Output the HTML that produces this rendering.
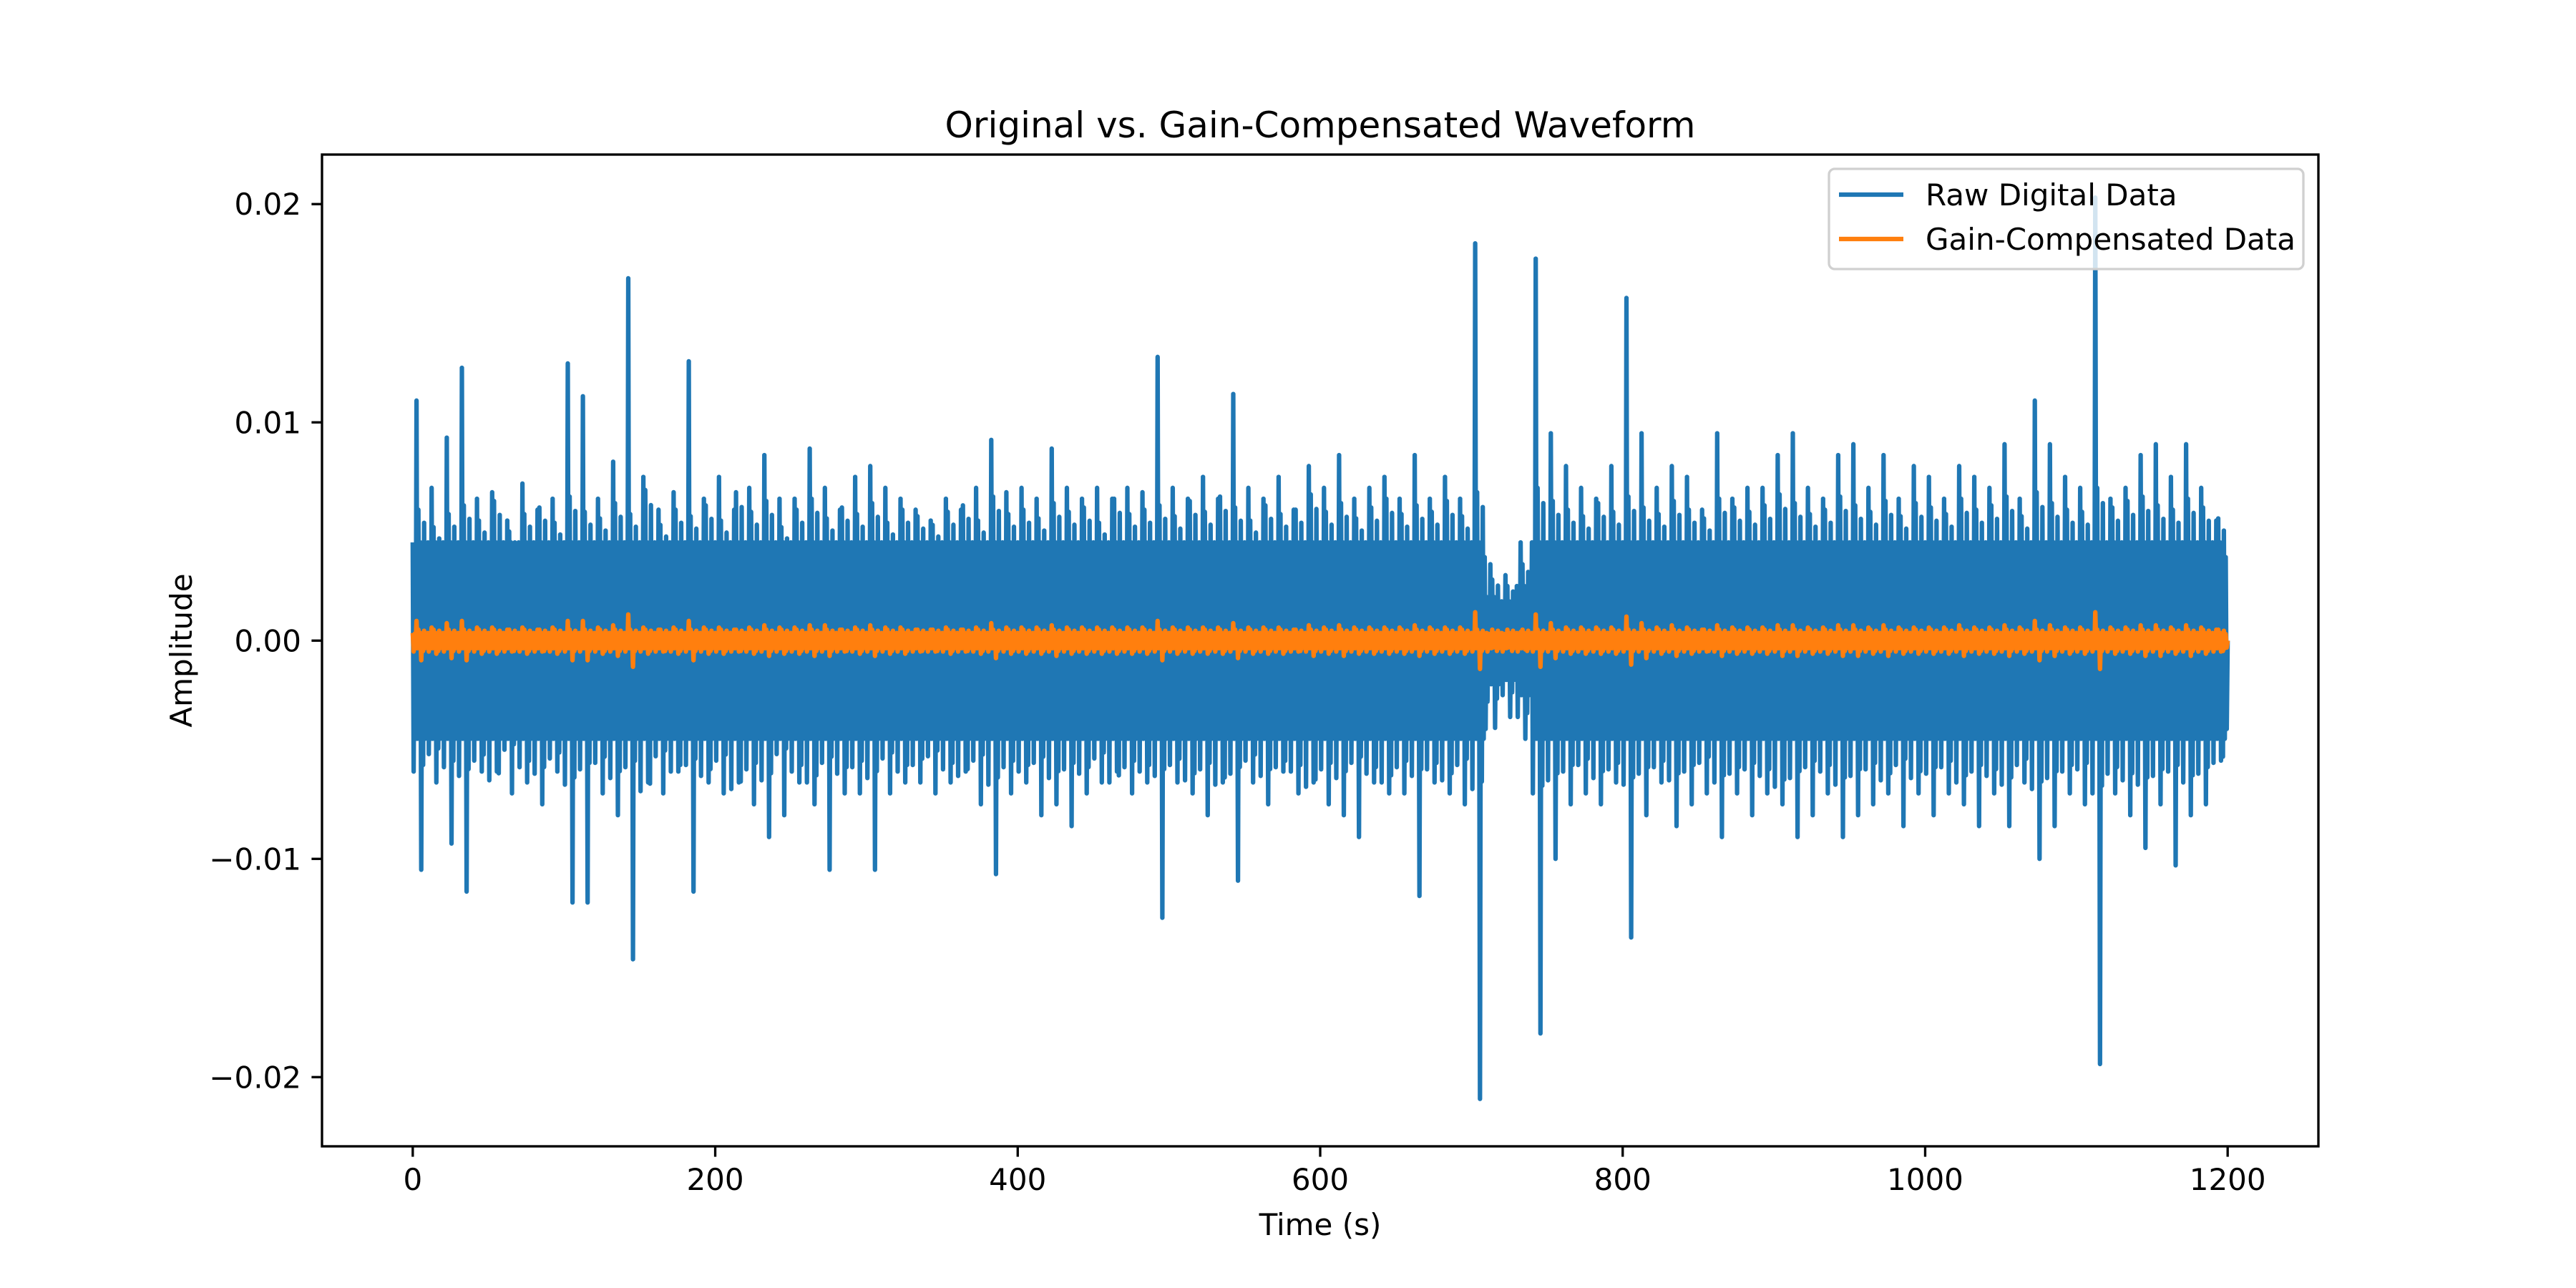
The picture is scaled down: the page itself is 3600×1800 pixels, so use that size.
<!DOCTYPE html>
<html><head><meta charset="utf-8"><style>
html,body{margin:0;padding:0;background:#fff;}
svg{display:block;font-family:"DejaVu Sans","Liberation Sans",sans-serif;}
</style></head><body>
<svg id="chart" width="3600" height="1800" viewBox="0 0 3600 1800" xmlns="http://www.w3.org/2000/svg">
<rect x="0" y="0" width="3600" height="1800" fill="#fff"/>
<defs><clipPath id="clip"><rect x="450" y="216" width="2790" height="1386"/></clipPath></defs>
<g id="plot" clip-path="url(#clip)"></g>
<rect x="450" y="216" width="2790" height="1386" fill="none" stroke="#000" stroke-width="3.33"/>
<g id="xticks"></g>
<g id="yticks"></g>
<text x="1845" y="192" font-size="50" text-anchor="middle">Original vs. Gain-Compensated Waveform</text>
<text x="1845" y="1726" font-size="42" text-anchor="middle">Time (s)</text>
<text x="268" y="909" font-size="42" text-anchor="middle" transform="rotate(-90 268 909)">Amplitude</text>
<g>
<rect x="2556" y="236" width="663" height="140" rx="8" fill="#fff" fill-opacity="0.8" stroke="#d0d0d0" stroke-width="3.33"/>
<line x1="2570" y1="272" x2="2660" y2="272" stroke="#1f77b4" stroke-width="6.25"/>
<text x="2691" y="287" font-size="42">Raw Digital Data</text>
<line x1="2570" y1="334" x2="2660" y2="334" stroke="#ff7f0e" stroke-width="6.25"/>
<text x="2691" y="349" font-size="42">Gain-Compensated Data</text>
</g>
</svg>
<script>
// bin width 10 s; values in units of 1e-3
const binWidth = 10;
const rawPeakHi = [11.0,7.0,9.3,12.5,6.5,6.8,5.5,7.2,6.0,6.5,
12.7,11.2,6.5,8.2,16.6,7.5,6.0,6.8,12.8,6.5,
7.5,6.0,7.0,8.5,6.5,6.5,8.8,7.0,6.0,7.5,
8.0,7.0,6.5,6.0,5.5,6.5,6.0,7.0,9.2,6.8,
7.0,6.5,8.8,7.0,6.5,7.0,6.5,7.0,6.8,13.0,
7.0,6.5,7.5,6.5,11.3,7.0,6.5,7.5,6.0,8.0,
7.0,8.5,6.5,7.0,7.5,6.5,8.5,6.5,7.5,6.5,
18.2,3.5,3.0,4.5,17.5,9.5,8.0,7.0,6.5,8.0,
15.7,9.5,7.0,8.0,7.5,6.0,9.5,6.5,7.0,7.0,
8.5,9.5,7.0,6.5,8.5,9.0,7.0,8.5,6.5,8.0,
7.5,6.5,8.0,7.5,7.0,9.0,6.5,11.0,9.0,7.5,
7.0,20.3,6.5,7.0,8.5,9.0,7.5,9.0,7.0,5.5];
const rawPeakLo = [10.5,6.5,9.3,11.5,6.0,6.0,7.0,6.5,7.5,6.0,
12.0,12.0,7.0,8.0,14.6,6.5,7.0,6.0,11.5,6.5,
7.0,6.5,7.5,9.0,8.0,6.5,7.5,10.5,7.0,7.0,
10.5,7.0,6.5,6.5,7.0,6.5,6.0,7.5,10.7,7.0,
6.5,8.0,7.5,8.5,7.0,6.5,6.0,7.0,6.5,12.7,
6.5,7.0,8.0,6.5,11.0,6.5,7.5,6.0,7.0,6.5,
7.5,8.0,9.0,6.5,7.0,7.0,11.7,6.5,7.0,7.5,
21.0,4.0,3.5,4.5,18.0,10.0,7.5,7.0,7.5,6.5,
13.6,8.0,6.5,8.5,7.5,7.0,9.0,7.0,8.0,7.0,
7.5,9.0,8.0,7.0,9.0,8.0,7.5,7.0,8.5,7.0,
8.0,7.0,7.5,8.5,7.0,8.5,6.5,10.0,8.5,7.0,
7.5,19.4,7.0,8.0,9.5,7.5,10.3,8.0,7.5,5.5];
const rawMid = [6.0,5.2,5.8,6.2,5.5,6.4,5.0,5.8,6.1,5.4,
6.6,5.9,5.6,6.3,5.8,6.9,5.3,6.0,5.7,6.2,
5.5,6.8,5.9,6.4,5.2,6.0,6.5,5.6,6.1,5.8,
6.3,5.4,6.0,5.7,5.3,5.9,6.2,5.5,6.6,5.8,
6.0,5.6,6.3,5.9,6.1,5.4,6.5,5.8,6.0,6.2,
5.7,6.4,5.9,6.6,6.1,5.5,6.2,5.8,6.0,6.7,
5.9,6.3,5.6,6.1,6.5,5.8,6.2,5.9,6.4,5.7,
6.8,2.8,2.5,3.5,7.0,6.4,6.0,5.7,6.3,5.9,
6.6,6.1,5.8,6.4,6.0,5.6,6.5,6.1,5.9,6.2,
6.7,6.3,5.8,6.0,6.6,6.2,5.9,6.4,5.7,6.3,
6.1,5.8,6.5,6.0,6.2,6.6,5.7,6.8,6.3,6.0,
5.9,7.0,6.1,6.4,6.6,6.2,6.0,6.5,6.1,5.6];
const rawCore = [4.5,4.5,4.5,4.5,4.5,4.5,4.5,4.5,4.5,4.5,
4.5,4.5,4.5,4.5,4.5,4.5,4.5,4.5,4.5,4.5,
4.5,4.5,4.5,4.5,4.5,4.5,4.5,4.5,4.5,4.5,
4.5,4.5,4.5,4.5,4.5,4.5,4.5,4.5,4.5,4.5,
4.5,4.5,4.5,4.5,4.5,4.5,4.5,4.5,4.5,4.5,
4.5,4.5,4.5,4.5,4.5,4.5,4.5,4.5,4.5,4.5,
4.5,4.5,4.5,4.5,4.5,4.5,4.5,4.5,4.5,4.5,
4.5,2.0,1.8,2.5,4.5,4.5,4.5,4.5,4.5,4.5,
4.5,4.5,4.5,4.5,4.5,4.5,4.5,4.5,4.5,4.5,
4.5,4.5,4.5,4.5,4.5,4.5,4.5,4.5,4.5,4.5,
4.5,4.5,4.5,4.5,4.5,4.5,4.5,4.5,4.5,4.5,
4.5,4.5,4.5,4.5,4.5,4.5,4.5,4.5,4.5,4.5];
const gainPeak = [0.9,0.6,0.8,0.9,0.6,0.6,0.5,0.6,0.5,0.6,
0.9,0.9,0.6,0.7,1.2,0.6,0.5,0.6,0.9,0.6,
0.6,0.5,0.6,0.7,0.6,0.6,0.7,0.7,0.5,0.6,
0.7,0.6,0.6,0.5,0.5,0.6,0.5,0.6,0.8,0.6,
0.6,0.6,0.7,0.6,0.6,0.6,0.6,0.6,0.6,0.9,
0.6,0.6,0.6,0.6,0.8,0.6,0.6,0.6,0.5,0.7,
0.6,0.7,0.6,0.6,0.6,0.6,0.7,0.6,0.6,0.6,
1.3,0.3,0.3,0.4,1.2,0.8,0.6,0.6,0.6,0.6,
1.1,0.8,0.6,0.7,0.6,0.5,0.7,0.6,0.6,0.6,
0.7,0.7,0.6,0.6,0.7,0.7,0.6,0.7,0.6,0.6,
0.6,0.6,0.7,0.6,0.6,0.7,0.6,0.9,0.7,0.6,
0.6,1.3,0.6,0.6,0.7,0.7,0.6,0.7,0.6,0.5];
const gainCore = 0.35;
const gainMid = 0.5;
const xTicks = [0,200,400,600,800,1000,1200];
const yTicks = [-0.02,-0.01,0,0.01,0.02];
const yTickLabels = ["\u22120.02","\u22120.01","0.00","0.01","0.02"];

const NS="http://www.w3.org/2000/svg";
const X0=450,X1=3240,Y0=216,Y1=1602,XMIN=-60,XMAX=1260,YMIN=-0.02317,YMAX=0.02227;
function sx(t){return X0+(t-XMIN)/(XMAX-XMIN)*(X1-X0);}
function sy(v){return Y0+(YMAX-v)/(YMAX-YMIN)*(Y1-Y0);}
function wave(peakHi,peakLo,core,mid){
  const pts=[];
  for(let i=0;i<peakHi.length;i++){
    const t0=i*binWidth;
    const c=core[i]*1e-3, m=mid[i]*1e-3;
    const seq=[c,-m,c*0.9,-c,peakHi[i]*1e-3,-c,m,-c*0.9,c,-peakLo[i]*1e-3,c*0.9,-m*0.95,m*0.9,-c,c*0.85,-c*0.9];
    for(let k=0;k<seq.length;k++){
      const t=t0+k*binWidth/seq.length;
      pts.push(sx(t).toFixed(1)+","+sy(seq[k]).toFixed(1));
    }
  }
  pts.push(sx(1200).toFixed(1)+","+sy(0).toFixed(1));
  return pts.join(" ");
}
const plot=document.getElementById('plot');
const raw=document.createElementNS(NS,'polyline');


raw.setAttribute('points',wave(rawPeakHi,rawPeakLo,rawCore,rawMid));
raw.setAttribute('fill','none');raw.setAttribute('stroke','#1f77b4');raw.setAttribute('stroke-width','6.25');raw.setAttribute('stroke-linejoin','round');
plot.appendChild(raw);
const gCore=gainPeak.map(()=>gainCore), gMid=gainPeak.map(()=>gainMid);
const gain=document.createElementNS(NS,'polyline');


gain.setAttribute('points',wave(gainPeak,gainPeak,gCore,gMid));
gain.setAttribute('fill','none');gain.setAttribute('stroke','#ff7f0e');gain.setAttribute('stroke-width','6.25');gain.setAttribute('stroke-linejoin','round');
plot.appendChild(gain);

const xg=document.getElementById('xticks');
xTicks.forEach(v=>{
  const x=sx(v);
  const l=document.createElementNS(NS,'line');
  
  
  l.setAttribute('x1',x);l.setAttribute('x2',x);l.setAttribute('y1',Y1);l.setAttribute('y2',Y1+14.6);
  l.setAttribute('stroke','#000');l.setAttribute('stroke-width','3.33');
  xg.appendChild(l);
  const t=document.createElementNS(NS,'text');
  
  
  t.setAttribute('x',x);t.setAttribute('y',1663);t.setAttribute('font-size','42');t.setAttribute('text-anchor','middle');
  t.textContent=String(v);
  xg.appendChild(t);
});
const yg=document.getElementById('yticks');
yTicks.forEach((v,i)=>{
  const y=sy(v);
  const l=document.createElementNS(NS,'line');
  
  
  l.setAttribute('x1',X0-14.6);l.setAttribute('x2',X0);l.setAttribute('y1',y);l.setAttribute('y2',y);
  l.setAttribute('stroke','#000');l.setAttribute('stroke-width','3.33');
  yg.appendChild(l);
  const t=document.createElementNS(NS,'text');
  
  
  t.setAttribute('x',X0-29);t.setAttribute('y',y+15);t.setAttribute('font-size','42');t.setAttribute('text-anchor','end');
  t.textContent=yTickLabels[i];
  yg.appendChild(t);
});
</script>
</body></html>
